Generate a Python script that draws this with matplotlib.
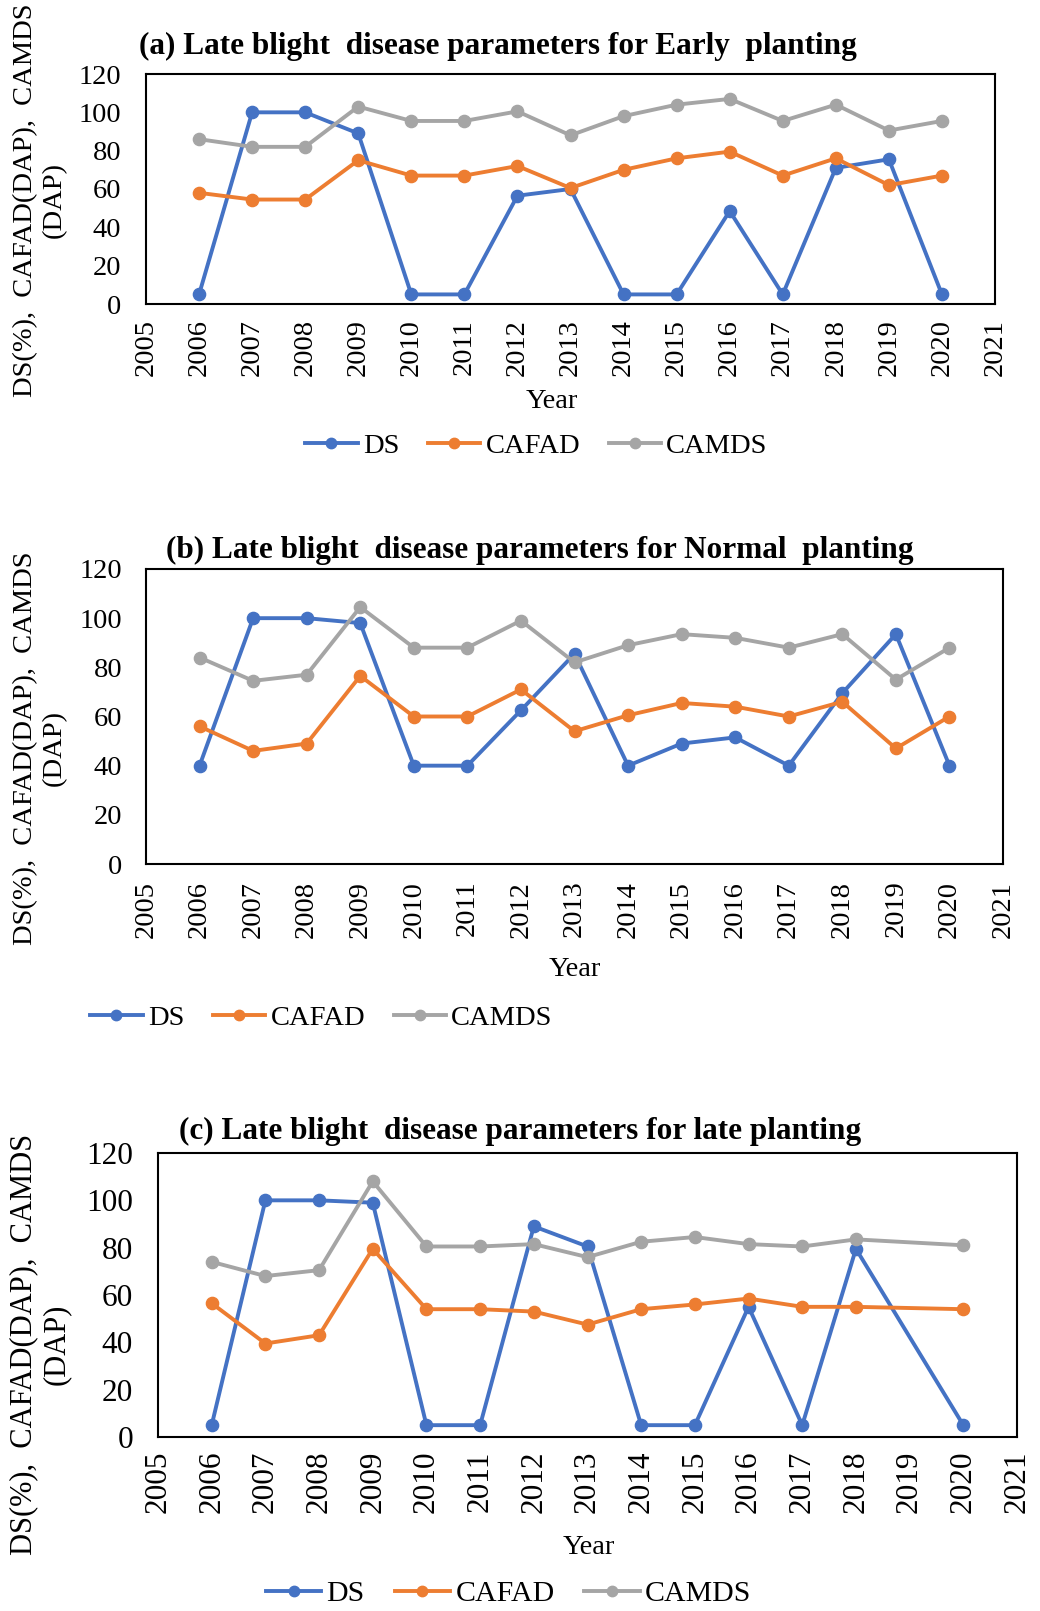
import numpy as np
import matplotlib.pyplot as plt

plt.rcParams['font.family'] = ['Liberation Serif', 'DejaVu Serif']

years = np.arange(2006, 2021)
nan = np.nan

# (a) early planting
ds_early = [5, 100, 100, 89, 5, 5, 56.5, 60, 5, 5, 48.5, 5, 71, 75.5, 5]
cafad_early = [58, 54.5, 54.5, 75, 67, 67, 72, 60.5, 70, 76, 79.5, 67, 76, 62, 67]
camds_early = [86, 82, 82, 103, 95.5, 95.5, 100.5, 88, 98, 104, 107, 95.5, 104, 90.5, 95.5]

# (b) normal planting
ds_normal = [40, 100, 100, 98, 40, 40, 62.5, 85.5, 40, 49, 51.5, 40, 69.5, 93.5, 40]
cafad_normal = [56, 46, 49, 76.5, 60, 60, 71, 54, 60.5, 65.5, 64, 60, 66, 47, 60]
camds_normal = [84, 74.5, 77, 104.5, 88, 88, 99, 82, 89, 93.5, 92, 88, 93.5, 75, 88]

# (c) late planting, no record for 2019
ds_late = [5, 100, 100, 99, 5, 5, 89, 80.5, 5, 5, 55, 5, 79.5, nan, 5]
cafad_late = [56.5, 39.5, 43, 79.5, 54, 54, 53, 47.5, 54, 56, 58.5, 55, 55, nan, 54]
camds_late = [74, 68, 70.5, 108, 80.5, 80.5, 81.5, 76, 82.5, 84.5, 81.5, 80.5, 83.5, nan, 81]

series_names = ['DS', 'CAFAD', 'CAMDS']
colors = ['#4472C4', '#ED7D31', '#A5A5A5']

titles = ['(a) Late blight  disease parameters for Early  planting',
          '(b) Late blight  disease parameters for Normal  planting',
          '(c) Late blight  disease parameters for late planting']
ylabel = 'DS(%),  CAFAD(DAP),  CAMDS\n(DAP)'

W, H = 1040, 1611
fig = plt.figure(figsize=(W / 100, H / 100), dpi=100)


def fx(x):
    return x / W


def fy(y):
    return 1 - y / H


# box (left, top, right, bottom) in pixels, plus text placement for each panel
panels = [
    dict(box=(146, 74, 995, 304), data=(ds_early, cafad_early, camds_early),
         title_xy=(498, 46), year_xy=(552, 401), leg_xy=(305, 446), ylab_y=200,
         fs=20.5, lfs=20.5, yfs=20.5, ypad=18, xpad=11),
    dict(box=(146, 569, 1003, 864), data=(ds_normal, cafad_normal, camds_normal),
         title_xy=(540, 550), year_xy=(575, 969), leg_xy=(90, 1018), ylab_y=748,
         fs=20.5, lfs=20.5, yfs=20.5, ypad=17, xpad=12),
    dict(box=(158, 1153, 1017, 1437), data=(ds_late, cafad_late, camds_late),
         title_xy=(520, 1131), year_xy=(589, 1547), leg_xy=(266, 1594), ylab_y=1344,
         fs=22.5, lfs=21.5, yfs=22, ypad=18, xpad=10),
]

for p, title in zip(panels, titles):
    l, t, r, b = p['box']
    fs = p['fs']
    ax = fig.add_axes([fx(l), fy(b), fx(r - l), (b - t) / H])
    lines = []
    for vals, name, c in zip(p['data'], series_names, colors):
        arr = np.array(vals, dtype=float)
        m = ~np.isnan(arr)
        ln, = ax.plot(years[m], arr[m], color=c, lw=2.8, marker='o',
                      markersize=8.8, label=name)
        lines.append(ln)

    ax.set_xlim(2005, 2021)
    ax.set_ylim(0, 120)
    ax.set_xticks(np.arange(2005, 2022))
    ax.set_yticks(np.arange(0, 121, 20))
    ax.tick_params(axis='x', length=0, labelsize=fs, rotation=90, pad=p['xpad'])
    ax.tick_params(axis='y', length=0, labelsize=fs, pad=p['ypad'])
    for s in ax.spines.values():
        s.set_linewidth(1.5)
        s.set_color('black')

    fig.text(fx(p['title_xy'][0]), fy(p['title_xy'][1]), title, fontsize=22.5,
             fontweight='bold', ha='center', va='center')
    fig.text(fx(p['year_xy'][0]), fy(p['year_xy'][1]), 'Year', fontsize=20.5,
             ha='center', va='center')
    fig.text(fx(40), fy(p['ylab_y']), ylabel, fontsize=p['yfs'], rotation=90,
             ha='center', va='center', multialignment='center', linespacing=1.15)
    fig.legend(handles=lines, loc='center left',
               bbox_to_anchor=(fx(p['leg_xy'][0]), fy(p['leg_xy'][1])),
               ncol=3, frameon=False, fontsize=p['lfs'], handlelength=1.85,
               handletextpad=0.18, columnspacing=1.0, borderaxespad=0,
               borderpad=0, markerscale=0.85)

fig.savefig('out.png', dpi=100)
